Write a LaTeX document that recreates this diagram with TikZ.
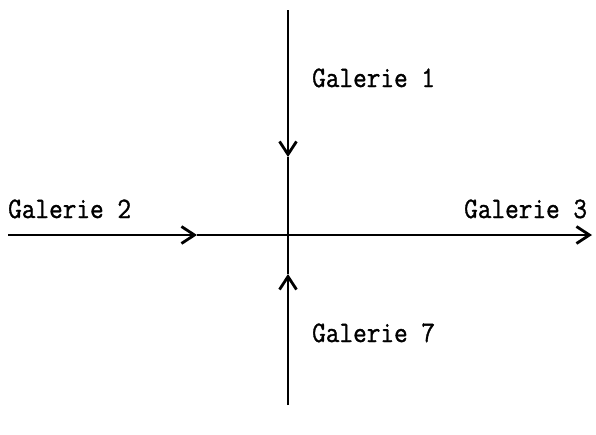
\documentclass[tikz,border=0pt]{standalone}
\usepackage{fontspec}
\newfontfamily\gfont[FakeBold=1.2]{Latin Modern Mono}
\usetikzlibrary{arrows.meta}
\begin{document}
\begin{tikzpicture}[x=1pt,y=-1pt,
  gline/.style={line width=2.8pt,black},
  barb/.style={-{Straight Barb[length=13pt,width=17pt,line width=2.8pt]}},
  lbl/.style={font=\gfont\bfseries\fontsize{26.5}{30}\selectfont,inner sep=0pt,anchor=base west,yscale=1.12}]
\useasboundingbox (0,0) rectangle (596,434);
\coordinate (c) at (288,235);
\coordinate (top) at (288,10);
\coordinate (bot) at (288,405);
\coordinate (left) at (8,235);
\coordinate (right) at (592,235);
\coordinate (tdown) at (288,157);
\coordinate (tup) at (288,274);
\coordinate (tright) at (197,235);
\draw[gline,barb] (top) -- (tdown);
\draw[gline] (tdown) -- (c);
\draw[gline,barb] (bot) -- (tup);
\draw[gline] (tup) -- (c);
\draw[gline,barb] (left) -- (tright);
\draw[gline] (tright) -- (c);
\draw[gline,barb] (c) -- (right);
\node[lbl] (g1) at (312,87) {Galerie 1};
\node[lbl] (g2) at (8,218) {Galerie 2};
\node[lbl] (g3) at (464,218) {Galerie 3};
\node[lbl] (g7) at (312,342) {Galerie 7};
\end{tikzpicture}
\end{document}
